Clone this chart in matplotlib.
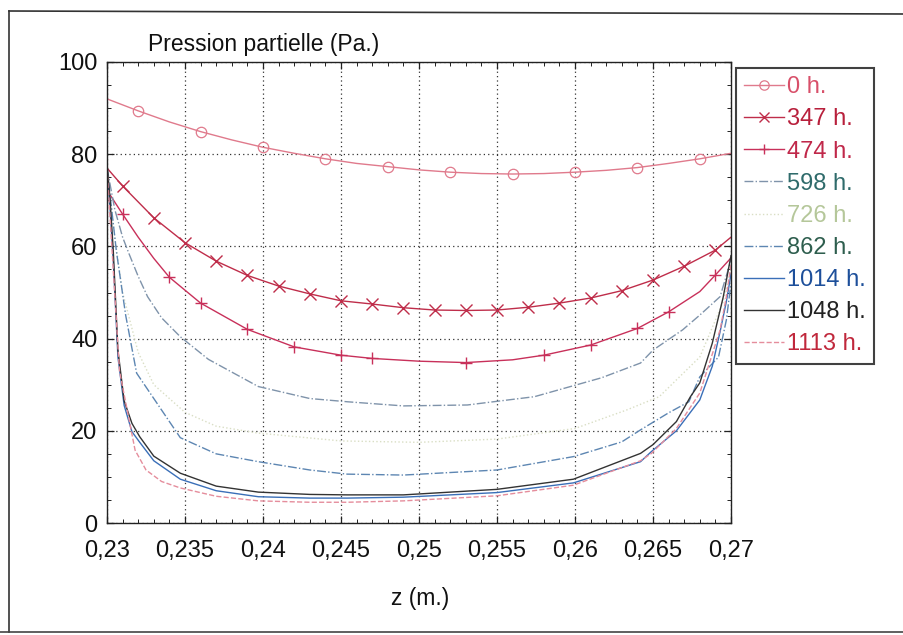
import matplotlib
matplotlib.use("Agg")
import matplotlib.pyplot as plt
from matplotlib.lines import Line2D
from matplotlib.ticker import MultipleLocator

plt.rcParams['font.family'] = ['Liberation Sans', 'DejaVu Sans']

# ---------------- data ----------------
# 0 h.
z_0 = [0.230, 0.232, 0.234, 0.236, 0.238, 0.240, 0.242, 0.244, 0.246, 0.248, 0.250,
       0.252, 0.254, 0.256, 0.258, 0.260, 0.262, 0.264, 0.266, 0.268, 0.270]
p_0 = [92.0, 89.4, 87.0, 84.9, 83.1, 81.5, 80.2, 79.0, 78.0, 77.3, 76.6,
       76.1, 75.8, 75.7, 75.8, 76.1, 76.5, 77.1, 78.0, 79.0, 80.2]
mk_0 = [1, 3, 5, 7, 9, 11, 13, 15, 17, 19]

# 347 h.
z_347 = [0.230, 0.231, 0.233, 0.235, 0.237, 0.239, 0.241, 0.243, 0.245, 0.247, 0.249,
         0.251, 0.253, 0.255, 0.257, 0.259, 0.261, 0.263, 0.265, 0.267, 0.269, 0.270]
p_347 = [77.0, 73.1, 66.2, 60.8, 56.8, 53.7, 51.4, 49.7, 48.2, 47.5, 46.7,
         46.2, 46.1, 46.2, 46.8, 47.7, 48.8, 50.4, 52.7, 55.7, 59.2, 62.0]
mk_347 = list(range(1, 21))

# 474 h.
z_474 = [0.230, 0.231, 0.232, 0.233, 0.234, 0.236, 0.239, 0.242, 0.245, 0.247, 0.250,
         0.253, 0.256, 0.258, 0.261, 0.264, 0.266, 0.268, 0.269, 0.270]
p_474 = [72.2, 67.0, 62.0, 57.4, 53.3, 47.7, 42.0, 38.2, 36.4, 35.7, 35.1,
         34.8, 35.4, 36.4, 38.6, 42.2, 45.8, 50.2, 53.8, 57.5]
mk_474 = [1, 4, 5, 6, 7, 8, 9, 11, 13, 14, 15, 16, 18]

# 598 h.
z_598 = [0.2300, 0.2305, 0.2310, 0.2314, 0.2320, 0.2326, 0.2335, 0.2347, 0.2365, 0.2397,
         0.2430, 0.2454, 0.2490, 0.2531, 0.2574, 0.2617, 0.2642, 0.2650, 0.2669, 0.2680,
         0.2693, 0.2700]
p_598 = [77.0, 68.0, 62.0, 58.5, 53.5, 49.1, 44.5, 40.4, 35.5, 29.6,
         27.0, 26.3, 25.4, 25.6, 27.4, 31.5, 34.7, 37.5, 41.9, 45.1,
         49.1, 57.0]

# 726 h.
z_726 = [0.2300, 0.2305, 0.2310, 0.2320, 0.2330, 0.2350, 0.2370, 0.2397, 0.2450, 0.2500,
         0.2550, 0.2600, 0.2633, 0.2654, 0.2680, 0.2695, 0.2700]
p_726 = [77.0, 62.0, 50.0, 37.0, 30.0, 24.0, 21.0, 19.5, 17.8, 17.5,
         18.2, 20.5, 24.5, 27.4, 36.0, 48.0, 55.0]

# 862 h.
z_862 = [0.2300, 0.2303, 0.2306, 0.2312, 0.2319, 0.2332, 0.2347, 0.2370, 0.2397, 0.2430,
         0.2454, 0.2490, 0.2550, 0.2599, 0.2630, 0.2642, 0.2660, 0.2673, 0.2680, 0.2692,
         0.2697, 0.2700]
p_862 = [77.0, 68.0, 59.0, 45.0, 32.5, 26.0, 18.5, 15.0, 13.3, 11.5,
         10.6, 10.4, 11.5, 14.4, 17.6, 20.2, 23.9, 26.3, 31.7, 36.0,
         44.0, 52.0]

# 1014 h.
z_1014 = [0.2300, 0.2302, 0.2304, 0.2307, 0.2311, 0.2316, 0.2321, 0.2330, 0.2347, 0.2370,
          0.2397, 0.2430, 0.2454, 0.2490, 0.2550, 0.2599, 0.2642, 0.2649, 0.2665, 0.2680,
          0.2688, 0.2693, 0.2697, 0.2700]
p_1014 = [77.0, 68.0, 57.0, 36.0, 25.5, 19.8, 17.5, 13.5, 9.5, 7.0,
          5.7, 5.4, 5.4, 5.6, 6.6, 8.7, 13.3, 15.5, 20.0, 26.7,
          34.0, 41.5, 48.0, 54.0]

# 1048 h.
z_1048 = [0.2300, 0.2302, 0.2304, 0.2307, 0.2311, 0.2316, 0.2321, 0.2330, 0.2347, 0.2370,
          0.2397, 0.2430, 0.2454, 0.2490, 0.2550, 0.2599, 0.2642, 0.2650, 0.2665, 0.2674,
          0.2680, 0.2688, 0.2695, 0.2700]
p_1048 = [78.0, 70.0, 59.2, 37.5, 26.5, 21.6, 18.7, 14.5, 10.8, 8.0,
          6.7, 6.2, 6.1, 6.1, 7.3, 9.5, 15.1, 17.0, 22.0, 27.4,
          30.4, 39.0, 49.0, 58.0]

# 1113 h.
z_1113 = [0.2300, 0.2302, 0.2304, 0.2308, 0.2318, 0.2325, 0.2335, 0.2347, 0.2370, 0.2397,
          0.2430, 0.2454, 0.2490, 0.2550, 0.2599, 0.2642, 0.2649, 0.2665, 0.2680, 0.2693,
          0.2697, 0.2700]
p_1113 = [77.0, 66.0, 55.0, 33.0, 15.8, 11.5, 9.0, 7.6, 5.8, 4.8,
          4.5, 4.5, 4.8, 5.9, 8.2, 13.5, 15.1, 20.5, 28.2, 41.9,
          49.0, 56.0]

labels = ['0 h.', '347 h.', '474 h.', '598 h.', '726 h.', '862 h.', '1014 h.', '1048 h.', '1113 h.']

x_ticks = [0.23, 0.235, 0.24, 0.245, 0.25, 0.255, 0.26, 0.265, 0.27]
x_tick_labels = ['0,23', '0,235', '0,24', '0,245', '0,25', '0,255', '0,26', '0,265', '0,27']
y_ticks = [0, 20, 40, 60, 80, 100]
y_tick_labels = ['0', '20', '40', '60', '80', '100']

# ---------------- styles ----------------
line_colors = ['#e07a8c', '#bf2d4a', '#c8305a', '#7f93aa', '#d9dec4', '#5d86b2',
               '#3a6fb8', '#333333', '#e58d9c']
text_colors = ['#d8506a', '#b8203c', '#c0284a', '#2f6b6b', '#b5c79a', '#2e5e4e',
               '#1d4f9a', '#222222', '#c0283c']

fig = plt.figure(figsize=(9.04, 6.35), dpi=100)
ax = fig.add_axes([107 / 904, 1 - 523 / 635, 624 / 904, 461 / 635])

series = [
    (z_0, p_0, dict(ls='-', marker='o', markevery=mk_0, ms=7.5, mfc='none', mew=0.9)),
    (z_347, p_347, dict(ls='-', marker='x', markevery=mk_347, ms=8, mew=1.0)),
    (z_474, p_474, dict(ls='-', marker='+', markevery=mk_474, ms=8, mew=1.0)),
    (z_598, p_598, dict(ls='-.')),
    (z_726, p_726, dict(ls=':')),
    (z_862, p_862, dict(ls='-.')),
    (z_1014, p_1014, dict(ls='-')),
    (z_1048, p_1048, dict(ls='-')),
    (z_1113, p_1113, dict(ls='--')),
]

handles = []
for (zz, pp, kw), c, lab in zip(series, line_colors, labels):
    h, = ax.plot(zz, pp, color=c, lw=1.0, label=lab, **kw)
    handles.append(h)

ax.set_xlim(0.23, 0.27)
ax.set_ylim(0, 100)
ax.set_xticks(x_ticks)
ax.set_xticklabels(x_tick_labels)
ax.set_yticks(y_ticks)
ax.set_yticklabels(y_tick_labels)
ax.xaxis.set_minor_locator(MultipleLocator(0.001))
ax.yaxis.set_minor_locator(MultipleLocator(5))
ax.tick_params(which='both', direction='in', top=True, right=True, colors='#222222',
               labelcolor='#111111')
ax.tick_params(which='major', length=5, width=0.9, labelsize=17)
ax.tick_params(which='minor', length=3, width=0.7)
ax.tick_params(axis='x', which='major', pad=12)
ax.tick_params(axis='y', which='major', pad=7)
ax.grid(True, which='major', color='#333333', lw=0.9, ls=(0, (1, 2.5)))
for s in ax.spines.values():
    s.set_color('#222222')
    s.set_linewidth(1.0)

fig.text(148 / 904, 1 - 45 / 635, 'Pression partielle (Pa.)', ha='left', va='center',
         fontsize=16.5, color='#111111')
fig.text(420 / 904, 1 - 598 / 635, 'z (m.)', ha='center', va='center',
         fontsize=16.5, color='#111111')

leg = fig.legend(handles=handles, labels=labels, loc='upper left',
                 bbox_to_anchor=(736 / 904, 1 - 68 / 635), fontsize=17,
                 frameon=True, fancybox=False, shadow=False, borderaxespad=0,
                 borderpad=0.35, labelspacing=0.43, handlelength=1.7,
                 handletextpad=0.1, markerscale=0.9)
leg.get_frame().set_edgecolor('#111111')
leg.get_frame().set_linewidth(1.5)
for t, c in zip(leg.get_texts(), text_colors):
    t.set_color(c)

# outer frame of the scanned page
fig.add_artist(Line2D([9 / 904, 9 / 904], [1 - 11 / 635, 1 - 632 / 635],
                      transform=fig.transFigure, color='#333333', lw=1.2))
fig.add_artist(Line2D([9 / 904, 1.0], [1 - 11 / 635, 1 - 14 / 635],
                      transform=fig.transFigure, color='#333333', lw=1.2))
fig.add_artist(Line2D([0.0, 1.0], [1 - 632 / 635, 1 - 632 / 635],
                      transform=fig.transFigure, color='#444444', lw=1.2))

fig.savefig('out.png', dpi=100)
